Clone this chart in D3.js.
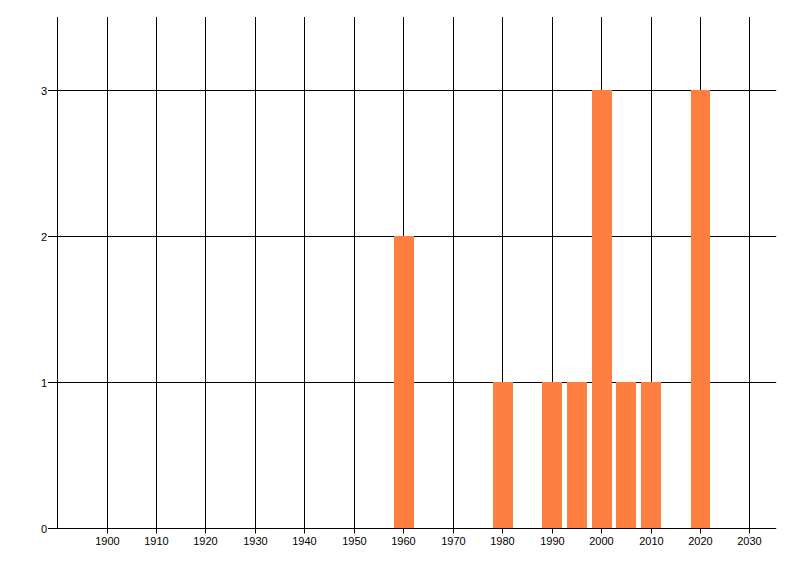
<!DOCTYPE html>
<html>
<head>
<meta charset="utf-8">
<script src="https://cdn.jsdelivr.net/npm/d3@7"></script>
<style>
html,body{margin:0;padding:0;background:#fff;}
svg{display:block;}
text{font-family:"Liberation Sans",Arial,sans-serif;font-size:11px;fill:#000;}
</style>
</head>
<body>
<svg id="chart" width="800" height="576"></svg>
<script>
const years = [1960, 1980, 1990, 1995, 2000, 2005, 2010, 2020];
const counts = [2, 1, 1, 1, 3, 1, 1, 3];
const xTicks = [1900, 1910, 1920, 1930, 1940, 1950, 1960, 1970, 1980, 1990, 2000, 2010, 2020, 2030];
const yTicks = [0, 1, 2, 3];
const barWidthYears = 4;

(function(){
const svg = d3.select("#chart");
const mLeft = 57.54, mRight = 774.73, mTop = 17, mBottom = 528.5;

const x = d3.scaleLinear().domain([1890, 2035]).range([mLeft, mRight]);
const y = d3.scaleLinear().domain([0, 3.5]).range([mBottom, mTop]);
const px = v => Math.floor(v) + 0.5;

// vertical gridlines
const gx = svg.append("g");
gx.selectAll("line").data(xTicks).join("line")
  .attr("x1", d => px(x(d))).attr("x2", d => px(x(d)))
  .attr("y1", mTop).attr("y2", mBottom + 5)
  .attr("stroke", "#000").attr("stroke-width", 1);
gx.selectAll("text").data(xTicks).join("text")
  .attr("x", d => px(x(d))).attr("y", 545)
  .attr("text-anchor", "middle")
  .text(d => d);

// horizontal gridlines
const gy = svg.append("g");
gy.selectAll("line").data(yTicks).join("line")
  .attr("x1", Math.floor(mLeft) - 9).attr("x2", mRight + 1.5)
  .attr("y1", d => px(y(d))).attr("y2", d => px(y(d)))
  .attr("stroke", "#000").attr("stroke-width", 1);
gy.selectAll("text").data(yTicks).join("text")
  .attr("x", Math.floor(mLeft) - 10).attr("y", d => px(y(d)) + 4)
  .attr("text-anchor", "end")
  .text(d => d);

// left axis
svg.append("line")
  .attr("x1", px(mLeft)).attr("x2", px(mLeft))
  .attr("y1", mTop).attr("y2", mBottom)
  .attr("stroke", "#000");

// bars (drawn over the grid)
const base = Math.floor(y(0));
svg.append("g").selectAll("rect").data(years).join("rect")
  .attr("x", d => Math.round(x(d - barWidthYears/2)))
  .attr("width", d => Math.round(x(d + barWidthYears/2)) - Math.round(x(d - barWidthYears/2)))
  .attr("y", (d,i) => Math.floor(y(counts[i])))
  .attr("height", (d,i) => base - Math.floor(y(counts[i])))
  .attr("fill", "#ff7f40");
})();
</script>
</body>
</html>
